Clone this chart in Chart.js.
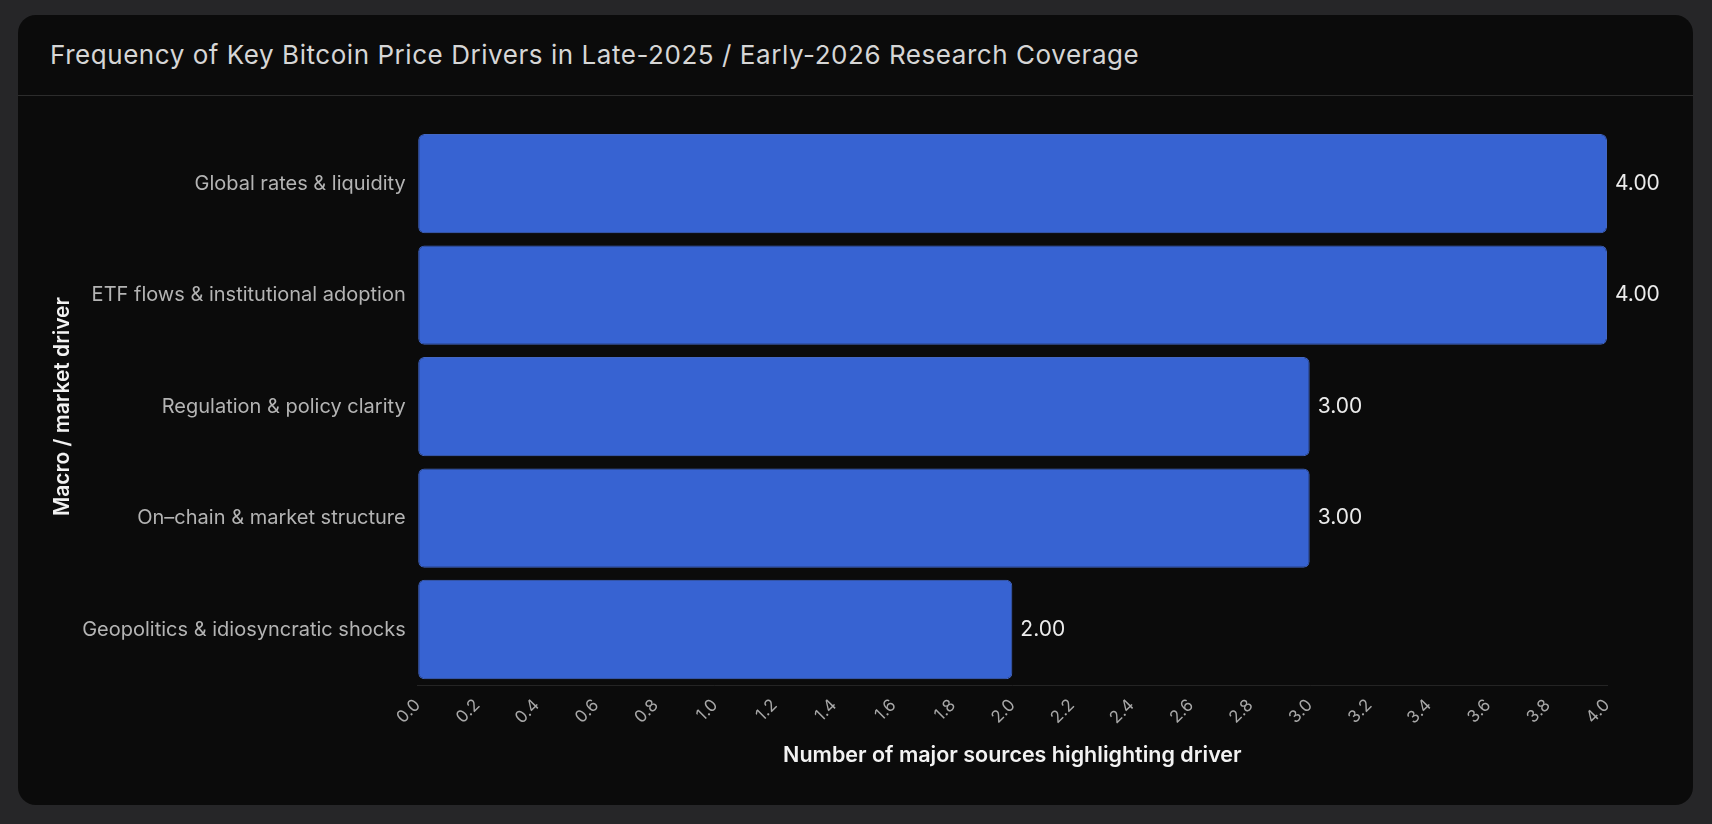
<!DOCTYPE html>
<html>
<head>
<meta charset="utf-8">
<script src="https://cdn.jsdelivr.net/npm/chart.js@4.4.1/dist/chart.umd.min.js"></script>
<style>
    html, body { margin: 0; padding: 0; background: #262628; width: 1712px; height: 824px; overflow: hidden; }
    .card {
        position: absolute; left: 18px; top: 15px; width: 1675px; height: 790px;
        background: #0b0b0b; border-radius: 18px; overflow: hidden;
        font-family: Inter, "Noto Sans", sans-serif;
    }
    .head {
        height: 80px; border-bottom: 1px solid #2c2c2c; box-sizing: content-box;
    }
    .head h1 {
        margin: 0; padding-left: 32px; line-height: 80px;
        font-size: 26px; font-weight: 400; color: #d6d6d6; letter-spacing: 0.55px;
    }
    .wrap { position: relative; width: 1675px; height: 709px; }
</style>
</head>
<body>
<div class="card">
    <div class="head"><h1>Frequency of Key Bitcoin Price Drivers in Late-2025 / Early-2026 Research Coverage</h1></div>
    <div class="wrap"><canvas id="myChart"></canvas></div>
</div>
<script>
const drivers = [
    'Global rates & liquidity',
    'ETF flows & institutional adoption',
    'Regulation & policy clarity',
    'On\u2013chain & market structure',
    'Geopolitics & idiosyncratic shocks'
];
const sourceCounts = [4, 4, 3, 3, 2];
const xMin = 0;
const xMax = 4;
const xStep = 0.2;

// draws "4.00" etc next to each bar
const valueLabels = {
    id: 'valueLabels',
    afterDatasetsDraw(chart) {
        const ctx = chart.ctx;
        const meta = chart.getDatasetMeta(0);
        ctx.save();
        ctx.font = '21px Inter, "Noto Sans", sans-serif';
        ctx.fillStyle = '#ececec';
        ctx.textAlign = 'left';
        ctx.textBaseline = 'middle';
        meta.data.forEach((bar, i) => {
            ctx.fillText(sourceCounts[i].toFixed(2), bar.x + 8, bar.y);
        });
        ctx.restore();
    }
};

let myChart;
function init() {
    Chart.defaults.font.family = 'Inter, "Noto Sans", sans-serif';

    const ctx = document.getElementById('myChart').getContext('2d');
    myChart = new Chart(ctx, {
        type: 'bar',
        data: {
            labels: drivers,
            datasets: [{
                data: sourceCounts,
                backgroundColor: '#3763d2',
                borderColor: '#4367c4',
                borderWidth: 1,
                borderRadius: 6,
                borderSkipped: false,
                barPercentage: 0.9,
                categoryPercentage: 0.99
            }]
        },
        plugins: [valueLabels],
        options: {
            indexAxis: 'y',
            responsive: true,
            maintainAspectRatio: false,
            animation: false,
            layout: {
                padding: { top: 32, right: 86, left: 28, bottom: 33 }
            },
            plugins: {
                legend: { display: false },
                tooltip: { enabled: false }
            },
            scales: {
                x: {
                    min: xMin,
                    max: xMax,
                    title: {
                        display: true,
                        text: 'Number of major sources highlighting driver',
                        color: '#f2f2f2',
                        font: { size: 21.5, weight: '600' },
                        padding: { top: 4 }
                    },
                    grid: {
                        display: true,
                        drawOnChartArea: false,
                        drawTicks: false,
                        color: 'transparent'
                    },
                    border: { display: true, color: '#242424' },
                    ticks: {
                        stepSize: xStep,
                        color: '#a8a8a8',
                        font: { size: 17 },
                        minRotation: 45,
                        maxRotation: 45,
                        padding: 10,
                        callback: (v) => Number(v).toFixed(1)
                    }
                },
                y: {
                    title: {
                        display: true,
                        text: 'Macro / market driver',
                        color: '#f2f2f2',
                        font: { size: 21, weight: '600' },
                        padding: { bottom: 3 }
                    },
                    grid: { display: false },
                    border: { display: false },
                    ticks: {
                        color: '#b4b4b4',
                        font: { size: 20 },
                        padding: 4
                    }
                }
            }
        }
    });
}

init();
</script>
</body>
</html>
